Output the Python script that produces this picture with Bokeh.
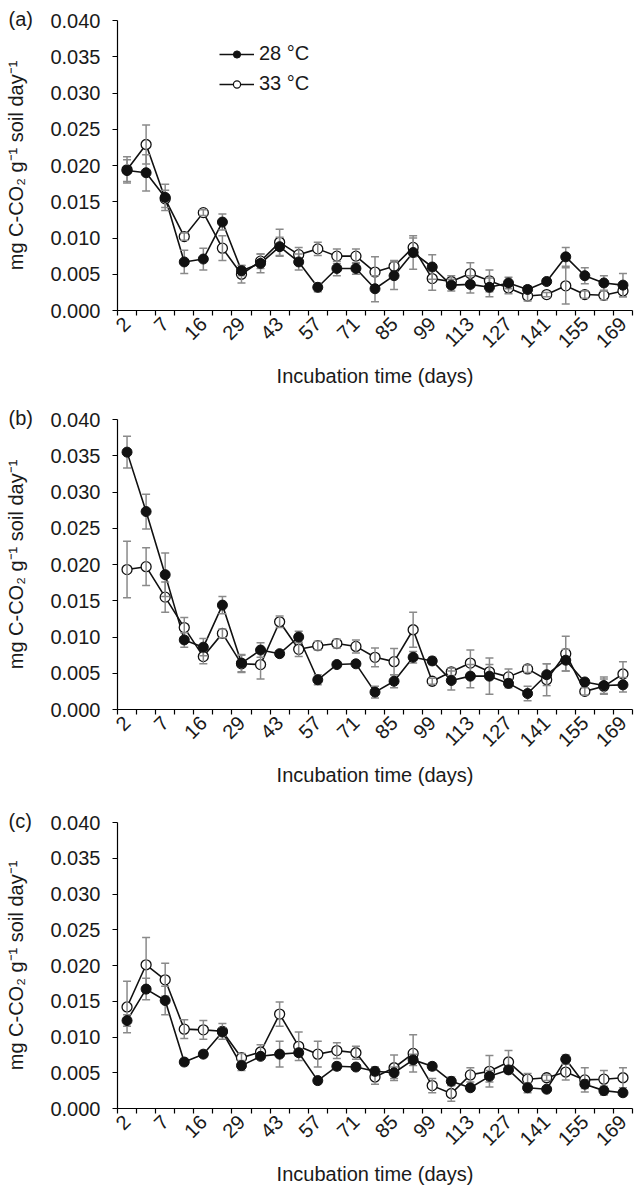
import numpy as np
from bokeh.plotting import figure
from bokeh.models import (FixedTicker, Legend, LegendItem, Range1d,
                          PrintfTickFormatter, CustomJSTickFormatter)
from bokeh.layouts import column
from bokeh.embed import file_html
from bokeh.resources import INLINE

# ---------------- data ----------------
days = [2, 4, 7, 11, 16, 22, 29, 36, 43, 50, 57, 64, 71, 78, 85, 92, 99,
        106, 113, 120, 127, 134, 141, 148, 155, 162, 169]
tick_labels = ["2", "7", "16", "29", "43", "57", "71", "85", "99", "113",
               "127", "141", "155", "169"]
y_ticks = [0.000, 0.005, 0.010, 0.015, 0.020, 0.025, 0.030, 0.035, 0.040]

# panel (a)
a28 = [0.0193, 0.0190, 0.0156, 0.0067, 0.0071, 0.0122, 0.0055, 0.0065, 0.0088,
       0.0067, 0.0032, 0.0058, 0.0058, 0.0030, 0.0048, 0.0080, 0.0060, 0.0035,
       0.0036, 0.0032, 0.0038, 0.0029, 0.0040, 0.0074, 0.0048, 0.0038, 0.0035]
a28_err = [0.0015, 0.0025, 0.0018, 0.0016, 0.0015, 0.0011, 0.0007, 0.0013, 0.0013,
           0.0011, 0.0006, 0.0010, 0.0008, 0.0018, 0.0019, 0.0023, 0.0017, 0.0008,
           0.0012, 0.0013, 0.0008, 0.0005, 0.0003, 0.0013, 0.0011, 0.0010, 0.0016]
a33 = [0.0194, 0.0229, 0.0154, 0.0102, 0.0135, 0.0086, 0.0050, 0.0068, 0.0094,
       0.0077, 0.0085, 0.0075, 0.0075, 0.0053, 0.0061, 0.0087, 0.0044, 0.0040,
       0.0051, 0.0041, 0.0031, 0.0020, 0.0022, 0.0034, 0.0022, 0.0021, 0.0027]
a33_err = [0.0018, 0.0027, 0.0012, 0.0005, 0.0004, 0.0017, 0.0012, 0.0010, 0.0018,
           0.0010, 0.0009, 0.0010, 0.0010, 0.0021, 0.0008, 0.0013, 0.0016, 0.0008,
           0.0015, 0.0015, 0.0008, 0.0007, 0.0003, 0.0025, 0.0005, 0.0006, 0.0008]

# panel (b)
b28 = [0.0355, 0.0273, 0.0186, 0.0096, 0.0086, 0.0144, 0.0064, 0.0082, 0.0077,
       0.0100, 0.0041, 0.0062, 0.0063, 0.0024, 0.0039, 0.0072, 0.0067, 0.0040,
       0.0046, 0.0046, 0.0036, 0.0022, 0.0048, 0.0068, 0.0038, 0.0033, 0.0034]
b28_err = [0.0022, 0.0024, 0.0030, 0.0010, 0.0012, 0.0012, 0.0012, 0.0010, 0.0004,
           0.0008, 0.0007, 0.0004, 0.0004, 0.0008, 0.0009, 0.0008, 0.0005, 0.0013,
           0.0016, 0.0025, 0.0006, 0.0010, 0.0015, 0.0015, 0.0004, 0.0012, 0.0010]
b33 = [0.0193, 0.0197, 0.0155, 0.0113, 0.0073, 0.0105, 0.0063, 0.0062, 0.0121,
       0.0083, 0.0088, 0.0091, 0.0087, 0.0072, 0.0066, 0.0110, 0.0039, 0.0052,
       0.0064, 0.0052, 0.0045, 0.0056, 0.0041, 0.0077, 0.0025, 0.0032, 0.0049]
b33_err = [0.0039, 0.0026, 0.0021, 0.0014, 0.0010, 0.0006, 0.0012, 0.0020, 0.0008,
           0.0010, 0.0006, 0.0006, 0.0009, 0.0013, 0.0018, 0.0024, 0.0004, 0.0005,
           0.0018, 0.0010, 0.0011, 0.0005, 0.0022, 0.0024, 0.0005, 0.0010, 0.0017]

# panel (c)
c28 = [0.0123, 0.0167, 0.0151, 0.0065, 0.0076, 0.0107, 0.0060, 0.0073, 0.0076,
       0.0078, 0.0039, 0.0059, 0.0058, 0.0052, 0.0050, 0.0068, 0.0059, 0.0038,
       0.0029, 0.0045, 0.0054, 0.0029, 0.0027, 0.0069, 0.0034, 0.0025, 0.0022]
c28_err = [0.0008, 0.0015, 0.0020, 0.0005, 0.0004, 0.0006, 0.0007, 0.0004, 0.0018,
           0.0005, 0.0004, 0.0005, 0.0003, 0.0006, 0.0008, 0.0008, 0.0005, 0.0006,
           0.0004, 0.0008, 0.0004, 0.0007, 0.0003, 0.0006, 0.0006, 0.0006, 0.0004]
c33 = [0.0142, 0.0201, 0.0180, 0.0111, 0.0110, 0.0108, 0.0071, 0.0079, 0.0132,
       0.0087, 0.0076, 0.0081, 0.0078, 0.0044, 0.0057, 0.0077, 0.0032, 0.0021,
       0.0047, 0.0052, 0.0065, 0.0041, 0.0043, 0.0051, 0.0040, 0.0041, 0.0043]
c33_err = [0.0036, 0.0038, 0.0023, 0.0013, 0.0013, 0.0011, 0.0006, 0.0010, 0.0017,
           0.0020, 0.0018, 0.0011, 0.0009, 0.0010, 0.0018, 0.0026, 0.0010, 0.0011,
           0.0010, 0.0022, 0.0016, 0.0008, 0.0004, 0.0011, 0.0017, 0.0012, 0.0014]

# ---------------- style ----------------
FONT = "Liberation Sans"
TXT = "#1a1a1a"
LINE = "#111111"
ERR = "#8a8a8a"
YLABEL = "mg C-CO\u2082 g\u207b\u00b9 soil day\u207b\u00b9"
XLABEL = "Incubation time (days)"
FIG_W = 635
BORDER_L = 117
BORDER_R = 3


def make_panel(tag, v28, e28, v33, e33, height, b_top, b_bottom,
               show_legend=False):
    n = len(days)
    x = np.arange(n) + 0.5
    v28 = np.array(v28); e28 = np.array(e28)
    v33 = np.array(v33); e33 = np.array(e33)

    p = figure(width=FIG_W, height=height,
               x_range=Range1d(0, n), y_range=Range1d(y_ticks[0], y_ticks[-1]),
               output_backend="svg", toolbar_location=None,
               min_border_left=BORDER_L, min_border_right=BORDER_R,
               min_border_top=b_top, min_border_bottom=b_bottom)
    p.outline_line_color = None
    p.grid.visible = False
    p.background_fill_color = "white"
    p.border_fill_color = "white"

    # panel tag as a title, pushed to the left border, level with the top tick
    p.title.text = tag
    p.title.align = "left"
    p.title.offset = -(BORDER_L - 8)
    p.title.standoff = -20
    p.title.vertical_align = "middle"
    p.title.text_font = FONT
    p.title.text_font_size = "20px"
    p.title.text_font_style = "normal"
    p.title.text_color = TXT

    # connecting lines
    p.line(x, v33, line_color=LINE, line_width=1.6)
    p.line(x, v28, line_color=LINE, line_width=1.6)
    # open markers
    p.scatter(x, v33, marker="circle", size=10, fill_color="white",
              line_color=LINE, line_width=1.3)
    # error bars
    for v, e in ((v33, e33), (v28, e28)):
        p.segment(x0=x, y0=v - e, x1=x, y1=v + e, line_color=ERR, line_width=1.5)
        p.scatter(np.concatenate([x, x]), np.concatenate([v - e, v + e]),
                  marker="dash", size=8, line_color=ERR, line_width=1.5)
    # filled markers
    p.scatter(x, v28, marker="circle", size=10, fill_color=LINE,
              line_color=LINE, line_width=1.0)

    # x axis: boundary ticks as minor ticks, labels on every other category
    major_pos = [float(x[days.index(int(t))]) for t in tick_labels]
    xa = p.xaxis[0]
    xa.ticker = FixedTicker(ticks=major_pos, minor_ticks=list(range(n + 1)))
    xa.formatter = CustomJSTickFormatter(
        args=dict(pos=major_pos, labs=tick_labels),
        code="""
        for (let i = 0; i < pos.length; i++) {
            if (Math.abs(pos[i] - tick) < 1e-6) { return labs[i]; }
        }
        return "";
        """)
    xa.major_label_orientation = 0.7853981633974483
    xa.major_tick_out = 0
    xa.major_tick_in = 0
    xa.minor_tick_out = 5
    xa.minor_tick_in = 0
    xa.minor_tick_line_color = "black"
    xa.minor_tick_line_width = 1.2
    xa.major_label_standoff = 5
    xa.axis_label = XLABEL
    xa.axis_label_standoff = 8

    ya = p.yaxis[0]
    ya.ticker = FixedTicker(ticks=y_ticks, minor_ticks=[])
    ya.formatter = PrintfTickFormatter(format="%.3f")
    ya.major_tick_out = 5
    ya.major_tick_in = 0
    ya.major_label_standoff = 12
    ya.axis_label = YLABEL
    ya.axis_label_standoff = 20

    for ax in (xa, ya):
        ax.axis_line_color = "black"
        ax.axis_line_width = 1.2
        ax.major_tick_line_color = "black"
        ax.major_tick_line_width = 1.2
        ax.major_label_text_font = FONT
        ax.major_label_text_font_size = "20px"
        ax.major_label_text_color = TXT
        ax.axis_label_text_font = FONT
        ax.axis_label_text_font_size = "20px"
        ax.axis_label_text_font_style = "normal"
        ax.axis_label_text_color = TXT

    if show_legend:
        frame_h = height - b_top - b_bottom
        nan = [np.nan]
        l1 = p.line(x=nan, y=nan, line_color=LINE, line_width=1.6)
        s1 = p.scatter(x=nan, y=nan, marker="circle", size=7, fill_color=LINE,
                       line_color=LINE)
        l2 = p.line(x=nan, y=nan, line_color=LINE, line_width=1.6)
        s2 = p.scatter(x=nan, y=nan, marker="circle", size=7, fill_color="white",
                       line_color=LINE, line_width=1.2)
        leg = Legend(items=[LegendItem(label="28 \u00b0C", renderers=[l1, s1]),
                            LegendItem(label="33 \u00b0C", renderers=[l2, s2])],
                     location=(102, frame_h - 75),
                     glyph_width=35, glyph_height=18, label_height=18,
                     spacing=7, padding=0, margin=0, label_standoff=5,
                     border_line_color=None, background_fill_alpha=0,
                     label_text_font=FONT, label_text_font_size="20px",
                     label_text_color=TXT)
        p.add_layout(leg)
    return p


pa = make_panel("(a)", a28, a28_err, a33, a33_err, 400, 20, 90, show_legend=True)
pb = make_panel("(b)", b28, b28_err, b33, b33_err, 400, 19, 91)
pc = make_panel("(c)", c28, c28_err, c33, c33_err, 387, 22, 78)

layout = column(pa, pb, pc, spacing=0)
open("out.html", "w").write(file_html(layout, INLINE))
